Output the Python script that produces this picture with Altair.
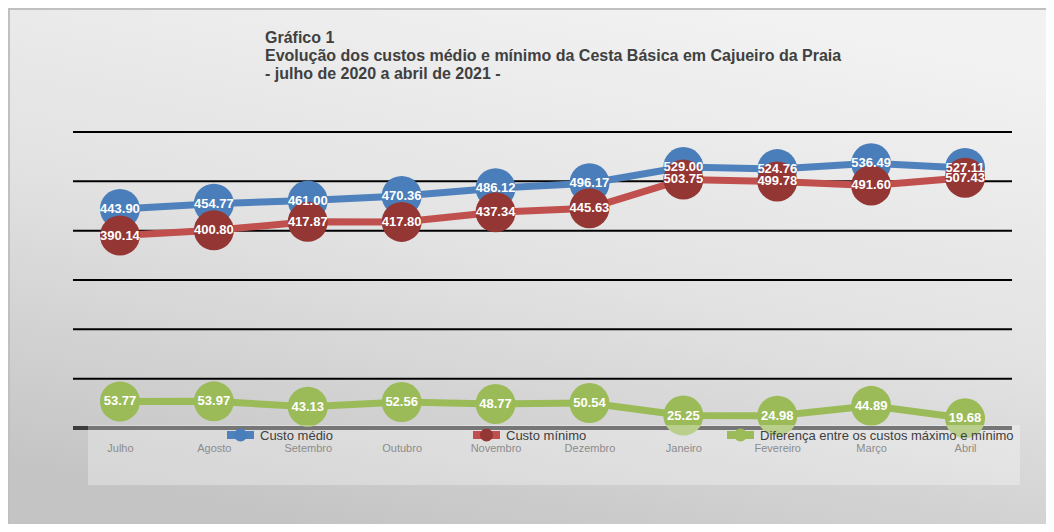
import altair as alt
import pandas as pd

months = ["Julho", "Agosto", "Setembro", "Outubro", "Novembro", "Dezembro",
          "Janeiro", "Fevereiro", "Março", "Abril"]
custo_medio = [443.90, 454.77, 461.00, 470.36, 486.12, 496.17, 529.00, 524.76, 536.49, 527.11]
custo_minimo = [390.14, 400.80, 417.87, 417.80, 437.34, 445.63, 503.75, 499.78, 491.60, 507.43]
diferenca = [53.77, 53.97, 43.13, 52.56, 48.77, 50.54, 25.25, 24.98, 44.89, 19.68]
series_names = ["Custo médio", "Custo mínimo", "Diferença entre os custos máximo e mínimo"]
grid_values = [100, 200, 300, 400, 500, 600]
title_lines = ["Gráfico 1",
               "Evolução dos custos médio e mínimo da Cesta Básica em Cajueiro da Praia",
               "- julho de 2020 a abril de 2021 -"]

line_colors = ["#4f81bd", "#c0504d", "#9bbb59"]
dot_colors = ["#4a7ebb", "#943634", "#9bbb59"]

rows = []
for name, vals in zip(series_names, [custo_medio, custo_minimo, diferenca]):
    for m, v in zip(months, vals):
        rows.append({"mes": m, "serie": name, "linha": name, "valor": v})
df = pd.DataFrame(rows)

W, H = 939, 296
FONT = "Liberation Sans"

x_enc = alt.X("mes:N", sort=months,
              scale=alt.Scale(type="point", padding=0.5),
              axis=alt.Axis(title=None, labelAngle=0, ticks=False, tickSize=0, domain=False,
                            grid=False, labelPadding=14, labelFontSize=11, labelFont=FONT,
                            labelColor="#8c8c8c", zindex=1))
y_enc = alt.Y("valor:Q", scale=alt.Scale(domain=[0, 600], nice=False, zero=True), axis=None)

one = pd.DataFrame({"a": [0]})

bg = alt.Chart(one).mark_rect(
    color=alt.LinearGradient(
        gradient="linear",
        stops=[alt.GradientStop(color="#f2f2f2", offset=0),
               alt.GradientStop(color="#e2e2e2", offset=0.5),
               alt.GradientStop(color="#c4c4c4", offset=1)],
        x1=0.7, y1=0, x2=0.3, y2=1),
    stroke="#c0c0c0", strokeWidth=2
).encode(x=alt.value(-64), x2=alt.value(W + 40), y=alt.value(-123), y2=alt.value(H + 100))

title = alt.Chart(pd.DataFrame({"t": ["\n".join(title_lines)]})).mark_text(
    align="left", baseline="top", lineBreak="\n", lineHeight=18,
    fontSize=16, fontWeight="bold", font=FONT, color="#404040"
).encode(text="t:N", x=alt.value(192), y=alt.value(-102))

grid = alt.Chart(pd.DataFrame({"g": grid_values})).mark_rule(color="#000000", strokeWidth=2).encode(
    y=alt.Y("g:Q", scale=alt.Scale(domain=[0, 600], nice=False), axis=None))

base_rule = alt.Chart(pd.DataFrame({"g": [0]})).mark_rule(color="#3c3c3c", strokeWidth=4).encode(
    y=alt.Y("g:Q", scale=alt.Scale(domain=[0, 600], nice=False), axis=None))

series_layers = []
label_layers = []
for i, name in enumerate(series_names):
    sub = alt.Chart(df).transform_filter(alt.datum.serie == name)
    line = sub.mark_line(strokeWidth=7).encode(
        x=x_enc, y=y_enc,
        stroke=alt.Stroke("linha:N", scale=alt.Scale(domain=series_names, range=line_colors),
                          legend=None))
    dots = sub.mark_circle(size=1600, opacity=1).encode(
        x=x_enc, y=y_enc,
        color=alt.Color("serie:N", scale=alt.Scale(domain=series_names, range=dot_colors),
                        legend=None))
    labels = sub.mark_text(color="white", fontWeight="bold", fontSize=13, font=FONT,
                           baseline="middle", align="center").encode(
        x=x_enc, y=y_enc, text=alt.Text("valor:Q", format=".2f"))
    series_layers += [line, dots]
    label_layers.append(labels)

overlay = alt.Chart(one).mark_rect(color="white", opacity=0.3).encode(
    x=alt.value(15), x2=alt.value(947), y=alt.value(293), y2=alt.value(353))

# legend (Excel style: short thick line with a dot), laid out below the baseline
legend_x = [154, 400, 654]
legend_y = 303
legend_layers = []
for name, lc, dc, lx in zip(series_names, line_colors, dot_colors, legend_x):
    seg = alt.Chart(one).mark_rule(strokeWidth=8, color=lc).encode(
        x=alt.value(lx), x2=alt.value(lx + 27), y=alt.value(legend_y))
    dot = alt.Chart(one).mark_circle(size=170, opacity=1, color=dc).encode(
        x=alt.value(lx + 13.5), y=alt.value(legend_y))
    txt = alt.Chart(one).mark_text(align="left", baseline="middle", fontSize=13, font=FONT,
                                   color="#404040").encode(
        x=alt.value(lx + 33), y=alt.value(legend_y + 1), text=alt.value(name))
    legend_layers += [seg, dot, txt]

chart = alt.layer(bg, title, grid, base_rule, *series_layers, *label_layers, overlay,
                  *legend_layers).properties(
    width=W, height=H,
    autosize=alt.AutoSizeParams(type="none"),
    padding={"left": 65, "top": 124, "right": 34, "bottom": 96},
).configure_view(stroke=None)

chart.save("out.html", embed_options={"renderer": "svg", "actions": False})
